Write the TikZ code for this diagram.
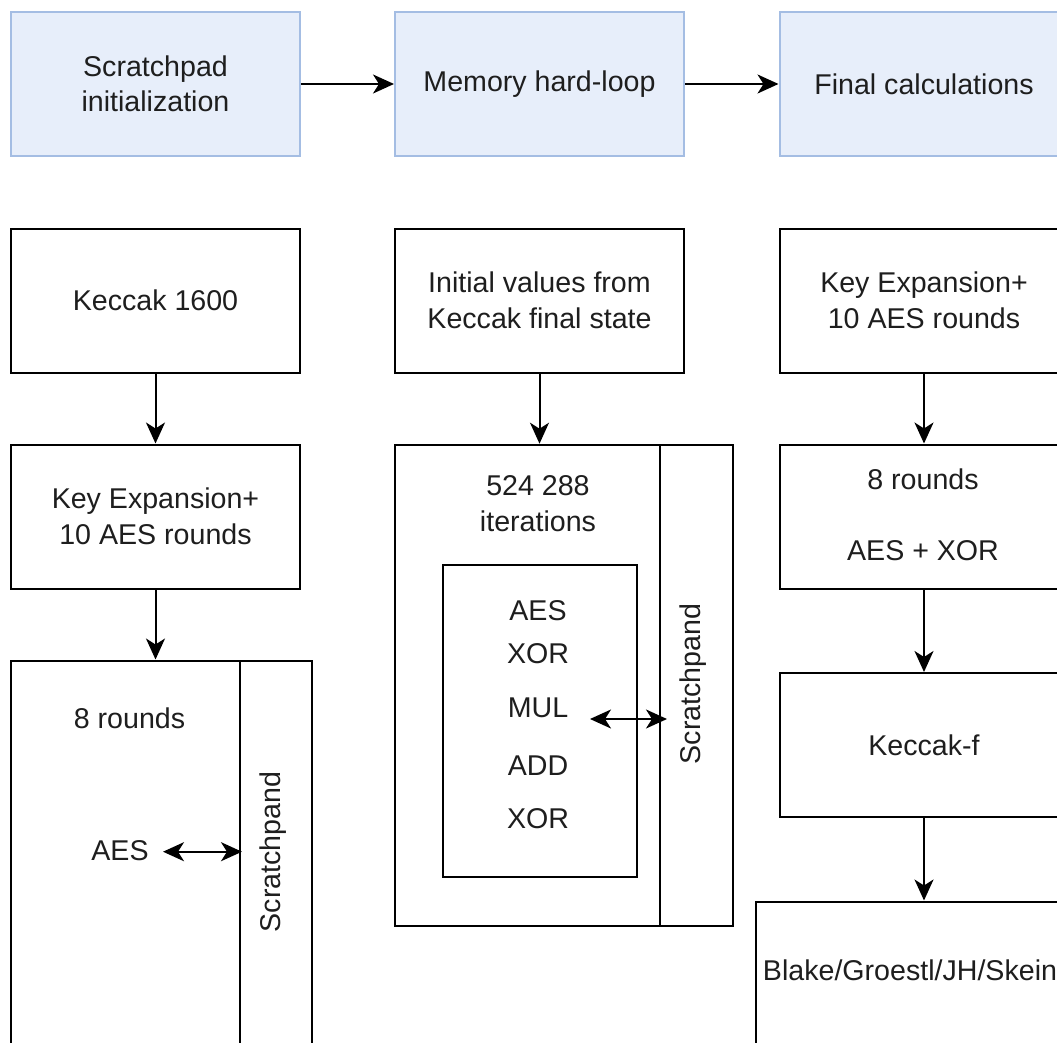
\documentclass[tikz,border=0pt]{standalone}
\usepackage{fontspec}
\setmainfont{Liberation Sans}
\usetikzlibrary{arrows.meta}
\definecolor{topfill}{HTML}{E7EEFA}
\definecolor{topline}{HTML}{A4BDE3}
\definecolor{txt}{HTML}{1E1E1E}
\newcommand{\fsz}{\fontsize{28.6}{35.5}\selectfont}
\begin{document}
\begin{tikzpicture}[x=1pt,y=1pt,
  box/.style={draw=black, line width=2pt, fill=white, text=txt, inner sep=0pt,
    align=center, font=\fsz, minimum width=289pt, minimum height=144pt},
  stage/.style={box, draw=topline, fill=topfill},
  lbl/.style={text=txt, inner sep=0pt, align=center, font=\fsz},
  ln/.style={line width=2pt, draw=black},
  arr/.style={ln, -{Stealth[length=21pt, width=19pt, inset=6pt]}},
  dbl/.style={ln, {Stealth[length=21pt, width=19pt, inset=6pt]}-{Stealth[length=21pt, width=19pt, inset=6pt]}}
]
\useasboundingbox (0,0) rectangle (1057,-1043);
\clip (0,0) rectangle (1057,-1043);

% three stages
\node[stage] (init)  at (155.5,-84) {Scratchpad\\initialization};
\node[stage] (loop)  at (539.5,-84) {Memory hard-loop};
\node[stage] (final) at (924,-84)   {Final calculations};
\draw[arr] (init) -- (loop);
\draw[arr] (loop) -- (final);

% scratchpad initialization
\node[box] (keccak) at (155.5,-300.5) {Keccak 1600};
\node[box] (keyexp) at (155.5,-516.5) {Key Expansion+\\10 AES rounds};
\node[box, minimum width=301pt, minimum height=450pt] (lround) at (161.5,-885.5) {};
\draw[ln] (240,-660.5) -- (240,-1110);
\node[lbl] (lrtxt) at (129.5,-718) {8 rounds};
\node[lbl] (laes) at (120,-851) {AES};
\node[lbl, rotate=90] (lpad) at (273,-852) {Scratchpand};
\coordinate (laesR) at (163,-851.7);
\coordinate (lpadL) at (242,-851.7);
\draw[arr] (keccak) -- (keyexp);
\draw[arr] (keyexp.south) -- (keyexp.south |- lround.north);
\draw[dbl] (laesR) -- (lpadL);

% memory hard-loop
\node[box] (initv) at (539.5,-300.5) {Initial values from\\Keccak final state};
\node[box, minimum width=338pt, minimum height=481pt] (iter) at (564,-685.2) {};
\draw[ln] (660,-444.7) -- (660,-925.7);
\node[lbl] (itxt) at (538,-503.5) {524 288\\iterations};
\node[box, minimum width=193.5pt, minimum height=311.7pt] (ops) at (539.75,-720.85) {};
\node[lbl] (o1) at (538,-611) {AES};
\node[lbl] (o2) at (538,-654) {XOR};
\node[lbl] (o3) at (538,-708) {MUL};
\node[lbl] (o4) at (538,-766) {ADD};
\node[lbl] (o5) at (538,-819) {XOR};
\node[lbl, rotate=90] (mpad) at (693,-684) {Scratchpand};
\coordinate (mulR) at (590,-719);
\coordinate (mpadL) at (667,-719);
\draw[arr] (initv.south) -- (initv.south |- iter.north);
\draw[dbl] (mulR) -- (mpadL);

% final calculations
\node[box] (fkey) at (924,-300.5) {Key Expansion+\\10 AES rounds};
\node[box] (frnd) at (924,-516.5) {};
\node[lbl] (frtxt) at (923,-479) {8 rounds};
\node[lbl] (fxor) at (923,-551) {AES + XOR};
\node[box] (kf) at (924,-745) {Keccak-f};
\node[box, minimum width=308pt, minimum height=210pt] (hash) at (910,-1006.5) {};
\node[lbl] (htxt) at (910,-970) {Blake/Groestl/JH/Skein};
\draw[arr] (fkey) -- (frnd);
\draw[arr] (frnd) -- (kf);
\draw[arr] (kf.south) -- (kf.south |- hash.north);
\end{tikzpicture}
\end{document}
